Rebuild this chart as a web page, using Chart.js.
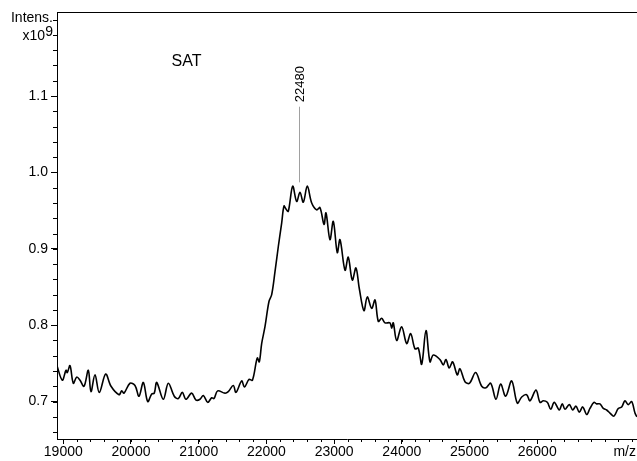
<!DOCTYPE html>
<html>
<head>
<meta charset="utf-8">
<title>SAT spectrum</title>
<script src="https://cdn.jsdelivr.net/npm/chart.js@4.4.1/dist/chart.umd.min.js"></script>
<style>
  html, body { margin: 0; padding: 0; background: #fff; }
  #wrap { width: 637px; height: 461px; position: relative; }
</style>
</head>
<body>
<div id="wrap"><canvas id="spectrum"></canvas></div>
<script>
// m/z values (Da)
const mz = [
  18903, 18985, 19040, 19059, 19099, 19148, 19198, 19247, 19306, 19369,
  19409, 19468, 19532, 19626, 19705, 19823, 19863, 19897, 19985, 20059,
  20118, 20182, 20247, 20306, 20344, 20380, 20477, 20551, 20639, 20699,
  20758, 20812, 20896, 20960, 21019, 21068, 21133, 21192, 21226, 21280,
  21388, 21437, 21511, 21551, 21635, 21676, 21743, 21794, 21865, 21895,
  21930, 21979, 22038, 22078, 22127, 22176, 22226, 22260, 22289, 22323,
  22388, 22447, 22496, 22545, 22604, 22669, 22743, 22791, 22851, 22880,
  22939, 22988, 23047, 23087, 23161, 23209, 23269, 23323, 23372, 23441,
  23490, 23555, 23604, 23653, 23703, 23751, 23825, 23851, 23874, 23924,
  23998, 24072, 24131, 24195, 24243, 24294, 24357, 24416, 24465, 24564,
  24613, 24652, 24701, 24751, 24819, 24859, 24933, 25000, 25091, 25180,
  25243, 25313, 25391, 25460, 25534, 25623, 25706, 25771, 25844, 25893,
  25982, 26041, 26090, 26149, 26199, 26252, 26326, 26370, 26410, 26474,
  26524, 26573, 26621, 26672, 26731, 26779, 26838, 26878, 26927, 26976,
  27026, 27075, 27134, 27197, 27248, 27296, 27345, 27395, 27444, 27473
];

// intensity (x10^9), same order as mz
const intensity = [
  0.748, 0.728, 0.741, 0.738, 0.747, 0.724, 0.732, 0.728, 0.720, 0.741,
  0.713, 0.735, 0.712, 0.736, 0.720, 0.709, 0.714, 0.711, 0.724, 0.721,
  0.707, 0.725, 0.700, 0.710, 0.711, 0.725, 0.703, 0.724, 0.707, 0.704,
  0.712, 0.703, 0.711, 0.702, 0.703, 0.708, 0.699, 0.705, 0.704, 0.714,
  0.711, 0.713, 0.721, 0.712, 0.727, 0.719, 0.729, 0.728, 0.757, 0.752,
  0.776, 0.798, 0.831, 0.840, 0.870, 0.903, 0.934, 0.956, 0.952, 0.949,
  0.982, 0.962, 0.974, 0.961, 0.982, 0.960, 0.951, 0.954, 0.932, 0.947,
  0.912, 0.936, 0.895, 0.912, 0.872, 0.889, 0.859, 0.875, 0.848, 0.819,
  0.837, 0.822, 0.833, 0.805, 0.809, 0.803, 0.803, 0.796, 0.803, 0.780,
  0.798, 0.776, 0.789, 0.769, 0.770, 0.749, 0.793, 0.752, 0.761, 0.755,
  0.748, 0.755, 0.744, 0.752, 0.735, 0.743, 0.726, 0.724, 0.738, 0.720,
  0.718, 0.724, 0.703, 0.723, 0.707, 0.727, 0.698, 0.706, 0.709, 0.701,
  0.715, 0.699, 0.701, 0.699, 0.690, 0.699, 0.689, 0.697, 0.690, 0.696,
  0.689, 0.694, 0.686, 0.693, 0.683, 0.691, 0.699, 0.697, 0.697, 0.691,
  0.689, 0.685, 0.681, 0.691, 0.693, 0.701, 0.696, 0.700, 0.685, 0.680
];

// axis tick labels
const xTicks = [19000, 20000, 21000, 22000, 23000, 24000, 25000, 26000];
const yTicks = [0.7, 0.8, 0.9, 1.0, 1.1];

// peak annotation
const peakMz = 22480;
const peakLabel = '22480';
const sampleName = 'SAT';

const FONT = "'Liberation Sans', Arial, Helvetica, sans-serif";

// extra drawing: top frame, minor ticks, axis captions, annotations
const overlay = {
    id: 'overlay',
    afterDraw(chart) {
        const ctx = chart.ctx;
        const area = chart.chartArea;
        const x = chart.scales.x;
        const y = chart.scales.y;
        ctx.save();
        ctx.strokeStyle = '#000';
        ctx.lineWidth = 1;

        // top frame line
        ctx.beginPath();
        ctx.moveTo(area.left, area.top + 0.5);
        ctx.lineTo(area.right, area.top + 0.5);
        ctx.stroke();

        // minor ticks
        ctx.beginPath();
        for (let v = 0.66; v <= 1.201; v += 0.02) {
            const py = Math.round(y.getPixelForValue(v)) + 0.5;
            ctx.moveTo(area.left - 4, py);
            ctx.lineTo(area.left, py);
        }
        for (let v = 19000; v <= 27400; v += 200) {
            const px = Math.round(x.getPixelForValue(v)) + 0.5;
            ctx.moveTo(px, area.bottom);
            ctx.lineTo(px, area.bottom + 3);
        }
        ctx.stroke();

        ctx.fillStyle = '#000';
        ctx.font = '14px ' + FONT;

        // y caption
        ctx.textAlign = 'right';
        ctx.textBaseline = 'middle';
        ctx.fillText('Intens.', 53, y.getPixelForValue(1.2) - 1);
        ctx.fillText('x10', 45, y.getPixelForValue(1.18) + 1);
        ctx.fillText('9', 53, y.getPixelForValue(1.18) - 3);

        // x caption
        ctx.textBaseline = 'middle';
        ctx.fillText('m/z', area.right - 1, area.bottom + 13);

        // sample name
        ctx.font = '16px ' + FONT;
        ctx.textAlign = 'center';
        ctx.fillText(sampleName, x.getPixelForValue(20820), y.getPixelForValue(1.145));

        // peak marker line
        const px = Math.round(x.getPixelForValue(peakMz)) + 0.5;
        ctx.strokeStyle = '#888';
        ctx.lineWidth = 0.8;
        ctx.beginPath();
        ctx.moveTo(px, y.getPixelForValue(0.987));
        ctx.lineTo(px, y.getPixelForValue(1.086));
        ctx.stroke();

        // peak label, vertical
        ctx.save();
        ctx.translate(px + 1, y.getPixelForValue(1.092));
        ctx.rotate(-Math.PI / 2);
        ctx.font = '13px ' + FONT;
        ctx.textAlign = 'left';
        ctx.textBaseline = 'middle';
        ctx.fillText(peakLabel, 0, 0);
        ctx.restore();

        ctx.restore();
    }
};

function renderChart() {
    const canvas = document.getElementById('spectrum');
    const points = mz.map((m, i) => ({ x: m, y: intensity[i] }));

    new Chart(canvas.getContext('2d'), {
        type: 'line',
        data: {
            datasets: [{
                data: points,
                borderColor: '#000',
                borderWidth: 1.6,
                pointRadius: 0,
                tension: 0.35,
                fill: false
            }]
        },
        options: {
            responsive: true,
            maintainAspectRatio: false,
            animation: false,
            layout: { padding: { top: 12, right: 0, bottom: 0, left: 0 } },
            plugins: {
                legend: { display: false },
                tooltip: { enabled: false }
            },
            scales: {
                x: {
                    type: 'linear',
                    min: 18907,
                    max: 27474,
                    afterBuildTicks: scale => {
                        scale.ticks = xTicks.map(v => ({ value: v }));
                    },
                    afterFit: scale => { scale.height = 22; },
                    border: { color: '#000', width: 1 },
                    grid: {
                        drawOnChartArea: false,
                        drawTicks: true,
                        tickLength: 5,
                        tickColor: '#000'
                    },
                    ticks: {
                        autoSkip: false,
                        maxRotation: 0,
                        padding: 0,
                        color: '#000',
                        font: { family: FONT, size: 14 },
                        callback: v => String(v)
                    }
                },
                y: {
                    type: 'linear',
                    min: 0.651,
                    max: 1.21,
                    afterBuildTicks: scale => {
                        scale.ticks = yTicks.map(v => ({ value: v }));
                    },
                    afterFit: scale => { scale.width = 57; },
                    border: { color: '#000', width: 1 },
                    grid: {
                        drawOnChartArea: false,
                        drawTicks: true,
                        tickLength: 6,
                        tickColor: '#000'
                    },
                    ticks: {
                        autoSkip: false,
                        padding: 3,
                        color: '#000',
                        font: { family: FONT, size: 14 },
                        callback: v => v.toFixed(1)
                    }
                }
            }
        },
        plugins: [overlay]
    });
}

renderChart();
</script>
</body>
</html>
